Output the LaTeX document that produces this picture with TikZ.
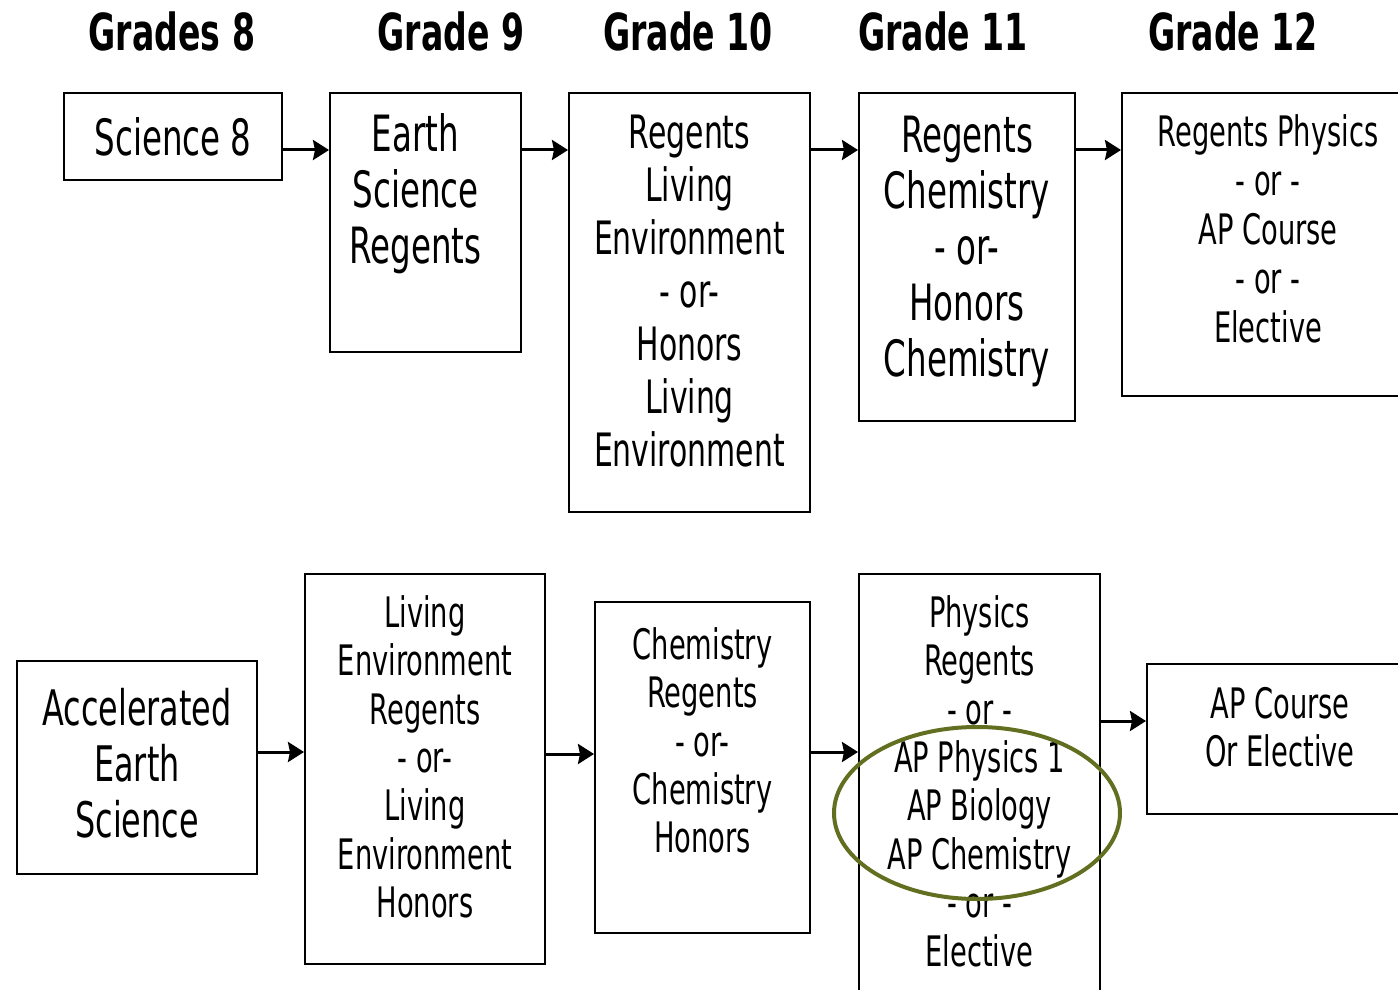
\documentclass[tikz,border=0pt]{standalone}
\usepackage{fontspec}
\setmainfont{DejaVu Sans}[FakeStretch=0.65]
\usepackage{tikz}
\usetikzlibrary{
  arrows.meta,
  positioning
}
\definecolor{ringgreen}{RGB}{98,110,32}

\begin{document}
\begin{tikzpicture}[
      x=0.5pt,y=-0.5pt,
      box/.style={
         rectangle,
         draw=black,
         line width=1pt,
         inner sep=0pt
      },
      txt/.style={
         align=center,
         inner sep=0pt
      },
      big/.style={font=\fontsize{25}{28}\selectfont},
      mid/.style={font=\fontsize{23}{26.5}\selectfont},
      small/.style={font=\fontsize{21}{24.2}\selectfont},
      grade/.style={font=\bfseries\fontsize{25.5}{30}\selectfont},
      >={Stealth[length=8pt,width=10pt,inset=1pt]},
      tip/.style={->,line width=1.5pt},
      ring/.style={draw=ringgreen,line width=2pt}
    ]
    \useasboundingbox (0,0) rectangle (1398,990);
    \clip (0,0) rectangle (1398,990);
    % grade headings
    \node (g8)  [grade] at (172,31)  {Grades 8};
    \node (g9)  [grade] at (451,31)  {Grade 9};
    \node (g10) [grade] at (688,31)  {Grade 10};
    \node (g11) [grade] at (943,31)  {Grade 11};
    \node (g12) [grade] at (1233,31) {Grade 12};
    % regular track
    \node (sci8)   [box, big, minimum width=109pt, minimum height=43.5pt] at (173,136.5) {Science 8};
    \node (earth9) [box, minimum width=95.5pt, minimum height=129.5pt] at (425.5,222.5) {};
    \node (liv10)  [box, minimum width=120.5pt, minimum height=209.5pt] at (689.5,302.5) {};
    \node (chem11) [box, minimum width=108pt, minimum height=164pt] at (967,257) {};
    \node (phys12) [box, minimum width=146pt, minimum height=151.5pt] at (1268,244.5) {};
    \node (earth9t) [txt, big, below=10.5pt of earth9.north, xshift=-5pt] {Earth\\Science\\Regents};
    \node (liv10t)  [txt, mid, below=11.5pt of liv10.north] {Regents\\Living\\Environment\\- or-\\Honors\\Living\\Environment};
    \node (chem11t) [txt, big, below=12pt of chem11.north] {Regents\\Chemistry\\- or-\\Honors\\Chemistry};
    \node (phys12t) [txt, font=\fontsize{21}{24.5}\selectfont, below=11pt of phys12.north] {Regents Physics\\- or -\\AP Course\\- or -\\Elective};
    % accelerated track
    \node (acc8)   [box, minimum width=120pt, minimum height=106.5pt] at (137,767.5) {};
    \node (liv9)   [box, minimum width=120pt, minimum height=195pt] at (425,769) {};
    \node (chem10) [box, minimum width=107.5pt, minimum height=165.5pt] at (702.5,767.5) {};
    \node (phys11) [box, minimum width=120.5pt, minimum height=218pt] at (979.5,792) {};
    \node (apc12)  [box, minimum width=133pt, minimum height=75pt] at (1280,739) {};
    \node (acc8t)   [txt, font=\fontsize{24.5}{28}\selectfont, below=14pt of acc8.north] {Accelerated\\Earth\\Science};
    \node (liv9t)   [txt, small, below=11pt of liv9.north] {Living\\Environment\\Regents\\- or-\\Living\\Environment\\Honors};
    \node (chem10t) [txt, small, below=13pt of chem10.north] {Chemistry\\Regents\\- or-\\Chemistry\\Honors};
    \node (phys11t) [txt, small, below=11pt of phys11.north] {Physics\\Regents\\- or -\\AP Physics 1\\AP Biology\\AP Chemistry\\- or -\\Elective};
    \node (apc12t)  [txt, small, below=12pt of apc12.north] {AP Course\\Or Elective};
    % connectors
    \draw[tip] ([yshift=-29pt]sci8.north east) -- ([yshift=-29pt]earth9.north west);
    \draw[tip] ([yshift=-29pt]earth9.north east) -- ([yshift=-29pt]liv10.north west);
    \draw[tip] ([yshift=-29pt]liv10.north east) -- ([yshift=-29pt]chem11.north west);
    \draw[tip] ([yshift=-29pt]chem11.north east) -- ([yshift=-29pt]phys12.north west);
    \draw[tip] ([yshift=-46pt]acc8.north east) -- ([yshift=-89.5pt]liv9.north west);
    \draw[tip] ([yshift=-90.5pt]liv9.north east) -- ([yshift=-76.5pt]chem10.north west);
    \draw[tip] ([yshift=-75.5pt]chem10.north east) -- ([yshift=-89.5pt]phys11.north west);
    \draw[tip] ([yshift=-74pt]phys11.north east) -- ([yshift=-29pt]apc12.north west);
    % highlighted AP choices
    \draw[ring] (977,813) ellipse [x radius=143, y radius=86];
\end{tikzpicture}
\end{document}
